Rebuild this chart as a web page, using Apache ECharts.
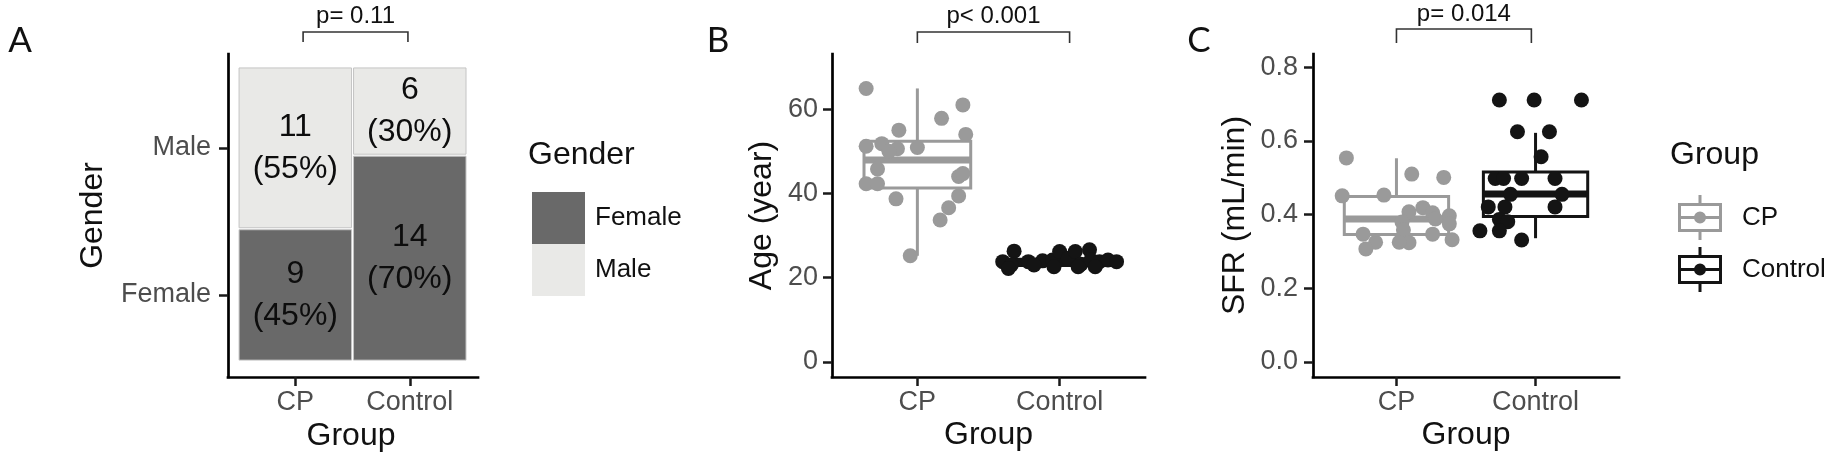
<!DOCTYPE html>
<html><head><meta charset="utf-8">
<script src="https://cdn.jsdelivr.net/npm/echarts@6/dist/echarts.min.js"></script>
<style>html,body{margin:0;padding:0;background:#fff}#c{width:1834px;height:459px}</style>
</head><body><div id="c"></div>
<script>
// ---------------- data ----------------
const groups = ['CP', 'Control'];
const genders = ['Female', 'Male'];
const femaleCounts = [9, 14];
const maleCounts = [11, 6];
const pValueA = 'p= 0.11';
const pValueB = 'p< 0.001';
const pValueC = 'p= 0.014';
const bracketA = [0.284, 0.742];
const bracketB = [1.0, 2.07];
const bracketC = [1.0, 1.97];

const ageTicks = [0, 20, 40, 60];
const sfrTicks = [0, 0.2, 0.4, 0.6, 0.8];

// box stats [min, Q1, median, Q3, max]
const ageBoxCP = [25.2, 41.3, 47.9, 52.4, 64.9];
const ageBoxControl = [22.2, 22.9, 23.6, 24.4, 26.6];
const sfrBoxCP = [0.309, 0.346, 0.388, 0.449, 0.553];
const sfrBoxControl = [0.336, 0.395, 0.456, 0.516, 0.622];

// jittered points: horizontal jitter (in group units) and value
const ageCPJitter = [-0.36, 0.32, 0.17, -0.13, 0.34, -0.25, -0.36, 0.00, -0.14, -0.20, -0.28, -0.36, -0.28, 0.29, 0.32, -0.15, 0.29, 0.22, 0.16, -0.05];
const ageCPValues = [64.9, 61.0, 57.8, 55.0, 54.0, 51.8, 51.2, 50.9, 50.6, 50.0, 45.8, 42.3, 42.3, 44.0, 44.7, 38.7, 39.4, 36.6, 33.7, 25.2];
const ageControlJitter = [-0.40, -0.32, -0.34, -0.22, -0.12, -0.05, 0.00, 0.06, 0.11, 0.15, 0.21, 0.22, 0.28, 0.34, 0.40, -0.18, -0.04, 0.13, 0.25, -0.36];
const ageControlValues = [23.8, 26.3, 23.0, 23.8, 24.0, 24.2, 26.2, 24.6, 26.2, 23.2, 26.6, 24.2, 23.8, 24.2, 23.8, 23.0, 22.6, 22.6, 22.6, 22.2];
const sfrCPJitter = [-0.36, 0.11, 0.34, -0.39, -0.09, 0.09, 0.19, 0.26, 0.38, 0.04, 0.05, 0.38, -0.24, 0.26, 0.40, -0.15, -0.22, 0.09, 0.28, 0.02];
const sfrCPValues = [0.554, 0.510, 0.501, 0.451, 0.453, 0.408, 0.419, 0.405, 0.397, 0.380, 0.358, 0.375, 0.347, 0.347, 0.332, 0.325, 0.307, 0.324, 0.388, 0.325];
const sfrControlJitter = [-0.26, -0.01, 0.33, -0.13, 0.10, 0.04, -0.29, -0.23, -0.10, 0.14, -0.18, 0.19, -0.34, -0.22, 0.14, -0.26, -0.20, -0.40, -0.26, -0.10];
const sfrControlValues = [0.711, 0.711, 0.711, 0.625, 0.625, 0.557, 0.498, 0.498, 0.498, 0.498, 0.455, 0.455, 0.421, 0.421, 0.421, 0.387, 0.381, 0.356, 0.356, 0.331];

// ---------------- styles ----------------
const FONT = '"Liberation Sans", Arial, Helvetica, sans-serif';
const COL_CP = '#9a9a9a';
const COL_CTRL = '#141414';
const COL_FEMALE = '#696969';
const COL_MALE = '#e9e9e7';
const boxHalf = 0.375;
const PT = 15;

// ---------------- mosaic geometry (from counts) ----------------
const groupTotals = groups.map((g, i) => femaleCounts[i] + maleCounts[i]);
const grand = groupTotals.reduce((a, b) => a + b, 0);
const colStart = [], colEnd = [];
{ let c = 0; groupTotals.forEach(t => { colStart.push(c / grand); c += t; colEnd.push(c / grand); }); }
const femaleProp = groups.map((g, i) => femaleCounts[i] / groupTotals[i]);
const colCenters = groups.map((g, i) => (colStart[i] + colEnd[i]) / 2);
const rowCenters = [femaleProp[0] / 2, (femaleProp[0] + 1) / 2];

function tileData(gIdx) {
  return groups.map((g, i) => {
    const n = gIdx === 0 ? femaleCounts[i] : maleCounts[i];
    const y0 = gIdx === 0 ? 0 : femaleProp[i];
    const y1 = gIdx === 0 ? femaleProp[i] : 1;
    return [colStart[i], colEnd[i], y0, y1, n, Math.round(n / groupTotals[i] * 100)];
  });
}
function tileRender(color) {
  return function (params, api) {
    const a = api.coord([api.value(0), api.value(3)]);
    const b = api.coord([api.value(1), api.value(2)]);
    const ins = 1;
    const x = a[0] + ins, y = a[1] + ins, w = b[0] - a[0] - 2 * ins, h = b[1] - a[1] - 2 * ins;
    return {
      type: 'group', children: [
        { type: 'rect', shape: { x, y, width: w, height: h }, style: { fill: color, stroke: '#c4c4c4', lineWidth: 1 } },
        { type: 'text', style: { text: api.value(4) + '\n(' + api.value(5) + '%)', x: x + w / 2, y: y + h / 2,
            align: 'center', verticalAlign: 'middle', fontSize: 32, fontFamily: FONT, fill: '#0d0d0d', lineHeight: 42 } }
      ]
    };
  };
}
function boxRender(color) {
  return function (params, api) {
    const x = api.value(0);
    const mn = api.value(1), q1 = api.value(2), md = api.value(3), q3 = api.value(4), mx = api.value(5);
    const tl = api.coord([x - boxHalf, q3]), br = api.coord([x + boxHalf, q1]);
    const pMax = api.coord([x, mx]), pQ3 = api.coord([x, q3]), pQ1 = api.coord([x, q1]), pMin = api.coord([x, mn]);
    const ml = api.coord([x - boxHalf, md]), mr = api.coord([x + boxHalf, md]);
    return {
      type: 'group', children: [
        { type: 'line', shape: { x1: pMax[0], y1: pMax[1], x2: pQ3[0], y2: pQ3[1] }, style: { stroke: color, lineWidth: 3 } },
        { type: 'line', shape: { x1: pQ1[0], y1: pQ1[1], x2: pMin[0], y2: pMin[1] }, style: { stroke: color, lineWidth: 3 } },
        { type: 'rect', shape: { x: tl[0], y: tl[1], width: br[0] - tl[0], height: br[1] - tl[1] }, style: { fill: '#fff', stroke: color, lineWidth: 3 } },
        { type: 'line', shape: { x1: ml[0], y1: ml[1], x2: mr[0], y2: mr[1] }, style: { stroke: color, lineWidth: 7 } }
      ]
    };
  };
}
function nearest(positions, v) {
  let bi = 0; positions.forEach((p, i) => { if (Math.abs(p - v) < Math.abs(positions[bi] - v)) bi = i; });
  return bi;
}
function mkAxis(gridIndex, min, max, ticks, fmt, margin) {
  return {
    type: 'value', gridIndex, min, max,
    axisLine: { show: true, onZero: false, lineStyle: { color: '#000', width: 2.7, cap: 'square' } },
    axisTick: { show: true, inside: false, length: 9, customValues: ticks, lineStyle: { color: '#1a1a1a', width: 2.5 } },
    axisLabel: { show: true, customValues: ticks, formatter: fmt, margin, color: '#4d4d4d', fontSize: 27, fontFamily: FONT },
    splitLine: { show: false }
  };
}
const groupPos = groups.map((g, i) => i + 1);
const groupFmt = v => groups[nearest(groupPos, v)];

function pts(center, jit, vals) { return vals.map((v, i) => [center + jit[i], v]); }

const glyph = 'path://M0 8L44 8L44 37L0 37Z M3 11L3 34L41 34L41 11Z M3 21L41 21L41 24L3 24Z M20.5 0L23.5 0L23.5 8L20.5 8Z M20.5 37L23.5 37L23.5 45L20.5 45Z M16 22.5A6 6 0 1 1 28 22.5A6 6 0 1 1 16 22.5Z';

const option = {
  backgroundColor: '#fff',
  animation: false,
  grid: [
    { left: 228, top: 54, width: 250, height: 323, outerBoundsMode: 'none' },
    { left: 832, top: 54, width: 313, height: 323, outerBoundsMode: 'none' },
    { left: 1313, top: 54, width: 306, height: 323, outerBoundsMode: 'none' }
  ],
  xAxis: [
    mkAxis(0, -0.044, 1.048, colCenters, v => groups[nearest(colCenters, v)], 12),
    mkAxis(1, 0.4, 2.6, groupPos, groupFmt, 12),
    mkAxis(2, 0.4, 2.6, groupPos, groupFmt, 12)
  ],
  yAxis: [
    mkAxis(0, -0.054, 1.044, rowCenters, v => genders[nearest(rowCenters, v)], 17),
    mkAxis(1, -3.56, 73.07, ageTicks, v => String(Math.round(v)), 14),
    mkAxis(2, -0.0407, 0.836, sfrTicks, v => v.toFixed(1), 15)
  ],
  legend: [
    { orient: 'vertical', left: 527, top: 187, itemWidth: 53, itemHeight: 52, itemGap: 0, icon: 'rect',
      selectedMode: false, itemStyle: { borderWidth: 0 },
      textStyle: { fontSize: 26, fontFamily: FONT, color: '#111', padding: [0, 0, 0, 5] },
      data: [{ name: 'Female', itemStyle: { color: COL_FEMALE } }, { name: 'Male', itemStyle: { color: COL_MALE } }] },
    { orient: 'vertical', left: 1673, top: 190, itemWidth: 44, itemHeight: 45, itemGap: 7,
      selectedMode: false, itemStyle: { borderWidth: 0 },
      textStyle: { fontSize: 26, fontFamily: FONT, color: '#111', padding: [0, 0, 0, 15] },
      data: [{ name: 'CP', icon: glyph, itemStyle: { color: COL_CP } }, { name: 'Control', icon: glyph, itemStyle: { color: COL_CTRL } }] }
  ],
  series: [
    { name: 'Female', type: 'custom', xAxisIndex: 0, yAxisIndex: 0, itemStyle: { color: COL_FEMALE },
      renderItem: tileRender(COL_FEMALE), data: tileData(0) },
    { name: 'Male', type: 'custom', xAxisIndex: 0, yAxisIndex: 0, itemStyle: { color: COL_MALE },
      renderItem: tileRender(COL_MALE), data: tileData(1) },

    { name: 'CP', type: 'custom', xAxisIndex: 1, yAxisIndex: 1, itemStyle: { color: COL_CP },
      renderItem: boxRender(COL_CP), data: [[1].concat(ageBoxCP)] },
    { name: 'Control', type: 'custom', xAxisIndex: 1, yAxisIndex: 1, itemStyle: { color: COL_CTRL },
      renderItem: boxRender(COL_CTRL), data: [[2].concat(ageBoxControl)] },
    { name: 'CP', type: 'scatter', xAxisIndex: 1, yAxisIndex: 1, symbolSize: PT, itemStyle: { color: COL_CP, opacity: 1 },
      data: pts(1, ageCPJitter, ageCPValues) },
    { name: 'Control', type: 'scatter', xAxisIndex: 1, yAxisIndex: 1, symbolSize: PT, itemStyle: { color: COL_CTRL, opacity: 1 },
      data: pts(2, ageControlJitter, ageControlValues) },

    { name: 'CP', type: 'custom', xAxisIndex: 2, yAxisIndex: 2, itemStyle: { color: COL_CP },
      renderItem: boxRender(COL_CP), data: [[1].concat(sfrBoxCP)] },
    { name: 'Control', type: 'custom', xAxisIndex: 2, yAxisIndex: 2, itemStyle: { color: COL_CTRL },
      renderItem: boxRender(COL_CTRL), data: [[2].concat(sfrBoxControl)] },
    { name: 'CP', type: 'scatter', xAxisIndex: 2, yAxisIndex: 2, symbolSize: PT, itemStyle: { color: COL_CP, opacity: 1 },
      data: pts(1, sfrCPJitter, sfrCPValues) },
    { name: 'Control', type: 'scatter', xAxisIndex: 2, yAxisIndex: 2, symbolSize: PT, itemStyle: { color: COL_CTRL, opacity: 1 },
      data: pts(2, sfrControlJitter, sfrControlValues) }
  ]
};

const chart = echarts.init(document.getElementById('c'), null, { renderer: 'canvas' });
chart.setOption(option);

// ---------------- annotations ----------------
const LETTER_FONT = 'Lato, "Open Sans", sans-serif';
function txt(text, x, y, size, opts) {
  return Object.assign({ type: 'text', x, y, style: { text, fontSize: size, fontFamily: FONT, fill: '#111',
    align: 'center', verticalAlign: 'middle' } }, opts || {});
}
function letter(text, x) {
  return { type: 'text', x, y: 41, style: { text, fontSize: 35, fontFamily: LETTER_FONT, fill: '#111', align: 'center', verticalAlign: 'middle' } };
}
function bracket(gridIndex, ends, yTop, yBot, label, labelY) {
  const a = chart.convertToPixel({ gridIndex }, [ends[0], 0]);
  const b = chart.convertToPixel({ gridIndex }, [ends[1], 0]);
  const st = { stroke: '#333', lineWidth: 1.6 };
  return [
    { type: 'polyline', shape: { points: [[a[0], yBot], [a[0], yTop], [b[0], yTop], [b[0], yBot]] }, style: Object.assign({ fill: null }, st) },
    txt(label, (a[0] + b[0]) / 2, labelY, 24, {})
  ];
}
function gridMid(gridIndex) {
  const g = option.grid[gridIndex];
  return { x: g.left + g.width / 2, y: g.top + g.height / 2 };
}
const graphics = [].concat(
  bracket(0, bracketA, 32, 42, pValueA, 16),
  bracket(1, bracketB, 32, 43, pValueB, 16),
  bracket(2, bracketC, 29, 43, pValueC, 14),
  [
    letter('A', 20), letter('B', 718), letter('C', 1199),
    txt('Group', gridMid(0).x - 2, 436, 32),
    txt('Group', gridMid(1).x, 435, 32),
    txt('Group', gridMid(2).x, 435, 32),
    txt('Gender', 93, gridMid(0).y, 32, { rotation: Math.PI / 2 }),
    txt('Age (year)', 762, gridMid(1).y, 32, { rotation: Math.PI / 2 }),
    txt('SFR (mL/min)', 1235, gridMid(2).y, 32, { rotation: Math.PI / 2 }),
    { type: 'text', x: 528, y: 155, style: { text: 'Gender', fontSize: 32, fontFamily: FONT, fill: '#111', align: 'left', verticalAlign: 'middle' } },
    { type: 'text', x: 1670, y: 155, style: { text: 'Group', fontSize: 32, fontFamily: FONT, fill: '#111', align: 'left', verticalAlign: 'middle' } }
  ]
);
chart.setOption({ graphic: graphics });
</script>
</body></html>
